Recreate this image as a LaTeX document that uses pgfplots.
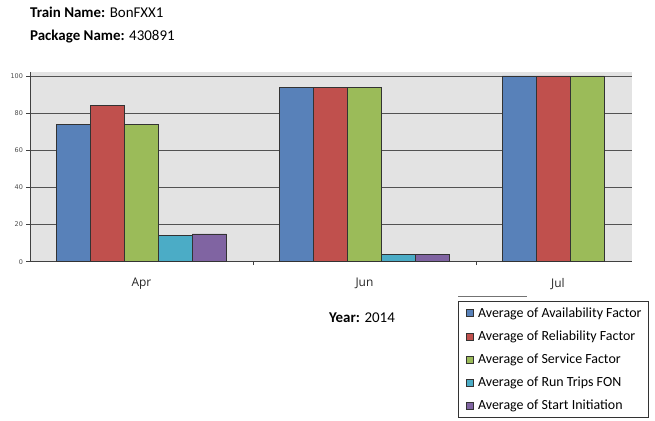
\documentclass[border=0pt]{standalone}
\usepackage{fontspec}
\setmainfont{Carlito}
\newfontfamily\tickfont{DejaVu Sans}
\newfontfamily\catfont{Open Sans}
\usepackage{pgfplots}
\pgfplotsset{compat=1.18}

\definecolor{availc}{HTML}{5881B9}
\definecolor{relc}{HTML}{C0504D}
\definecolor{servc}{HTML}{9BBB59}
\definecolor{tripc}{HTML}{4BACC6}
\definecolor{startc}{HTML}{8064A2}
\definecolor{plotbg}{HTML}{E3E3E3}

\begin{document}
\begin{tikzpicture}[x=1bp,y=1bp]
\path[use as bounding box] (0,0) rectangle (655,420);

\node[anchor=base west, inner sep=0pt, font=\fontsize{15}{18}\selectfont] at (30,402.5) {\textbf{Train Name:} BonFXX1};
\node[anchor=base west, inner sep=0pt, font=\fontsize{15}{18}\selectfont] at (30,379.5) {\textbf{Package Name:} 430891};
\node[anchor=base, inner sep=0pt, font=\fontsize{15}{18}\selectfont] at (362,97.5) {\textbf{Year:} 2014};

\draw[black!55, line width=0.8pt] (458,123.3) -- (527,123.3);

\begin{axis}[
  at={(30bp,158.3bp)}, anchor=south west,
  scale only axis, width=602bp, height=190bp,
  xmin=-0.5, xmax=2.2, ymin=0, ymax=102.3,
  axis x line*=bottom, axis y line*=left,
  axis line style={-, draw=black!75, line width=0.8pt},
  axis background/.style={fill=plotbg},
  ytick={0,20,40,60,80,100},
  ymajorgrids,
  major grid style={draw=black!68, line width=0.9pt},
  tick align=outside,
  major tick length=3.5bp,
  ytick style={draw=black!75, line width=0.8pt},
  /pgf/number format/assume math mode=true,
  yticklabel style={font=\tickfont\fontsize{6.5}{7.5}\selectfont, text=black!70},
  xtick={0.5,1.5},
  xticklabels={},
  xtick style={draw=black!75, line width=0.6pt},
  extra x ticks={0,1,1.868},
  extra x tick labels={Apr,Jun,Jul},
  extra x tick style={xtick style={draw=none}, grid=none,
    xticklabel style={font=\catfont\fontsize{12}{14}\selectfont, text=black!85, yshift=-9.5bp}},
  ybar, bar width=0.1525,
  every axis plot/.append style={draw=black!80, line width=0.6pt},
  legend cell align=left,
  legend image code/.code={\path (0bp,0bp) (12bp,0bp);
    \draw[#1, draw=black!80, line width=0.6pt] (3bp,-3.5bp) rectangle (10bp,3.5bp);},
  legend style={at={(0.711,-0.205)}, anchor=north west, draw=black!80, line width=0.8pt,
    fill=white, font=\fontsize{14}{16}\selectfont, row sep=8bp,
    inner xsep=5bp, inner ysep=4.5bp},
]
\addplot[fill=availc, bar shift=-0.305] coordinates {(0,74) (1,94) (2,100)};
\addplot[fill=relc, bar shift=-0.1525] coordinates {(0,84) (1,94) (2,100)};
\addplot[fill=servc, bar shift=0] coordinates {(0,74) (1,94) (2,100)};
\addplot[fill=tripc, bar shift=0.1525] coordinates {(0,14) (1,4)};
\addplot[fill=startc, bar shift=0.305] coordinates {(0,15) (1,4)};
\legend{Average of Availability Factor, Average of Reliability Factor, Average of Service Factor, Average of Run Trips FON, Average of Start Initiation}
\end{axis}
\end{tikzpicture}
\end{document}
